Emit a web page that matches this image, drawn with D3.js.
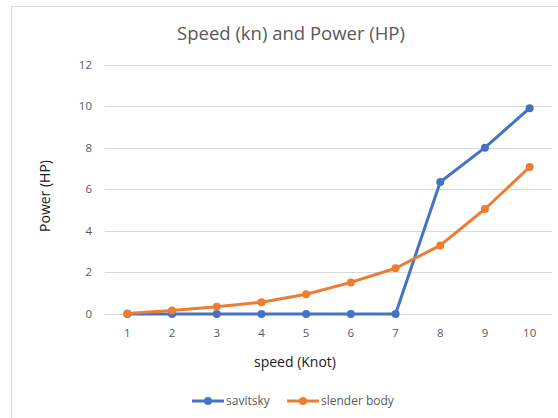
<!DOCTYPE html>
<html>
<head>
<meta charset="utf-8">
<script src="https://cdn.jsdelivr.net/npm/d3@7"></script>
<style>
  html, body { margin: 0; padding: 0; background: #fff; }
  svg { display: block; font-family: "Open Sans", "Noto Sans", sans-serif; }
  .grid line { stroke: #d9d9d9; stroke-width: 1; }
  .tick-label { fill: #595959; font-size: 11.5px; }
  .legend-label { fill: #595959; font-size: 12px; }
</style>
</head>
<body>
<div id="chart"></div>
<script>
'use strict';

// ── Data ────────────────────────────────────────────────────────────────────
const speeds       = [1, 2, 3, 4, 5, 6, 7, 8, 9, 10];
const savitsky     = [0, 0, 0, 0, 0, 0, 0, 6.35, 8.0, 9.9];
const slenderBody  = [0.02, 0.17, 0.35, 0.57, 0.95, 1.52, 2.2, 3.3, 5.05, 7.07];
const yTicks       = [0, 2, 4, 6, 8, 10, 12];

const SERIES = [
  { name: 'savitsky',     values: savitsky,    color: '#4472C4' },
  { name: 'slender body', values: slenderBody, color: '#ED7D31' },
];

const W = 558, H = 418;
const PLOT = { left: 105, right: 552, top: 64.5, bottom: 314 };

const svg = d3.select('#chart').append('svg')
  .attr('width', W)
  .attr('height', H);

// chart frame (cut off on the right/bottom like the reference)
svg.append('rect')
  .attr('x', 11.5).attr('y', 6.5)
  .attr('width', 600).attr('height', 500)
  .attr('fill', '#fff')
  .attr('stroke', '#d9d9d9');

const x = d3.scaleBand()
  .domain(speeds)
  .range([PLOT.left, PLOT.right]);
const cx = d => x(d) + x.bandwidth() / 2;

const y = d3.scaleLinear()
  .domain([0, 12])
  .range([PLOT.bottom, PLOT.top]);

// ── Gridlines ───────────────────────────────────────────────────────────────
svg.append('g')
  .attr('class', 'grid')
  .selectAll('line')
  .data(yTicks)
  .enter()
  .append('line')
  .attr('x1', PLOT.left).attr('x2', PLOT.right)
  .attr('y1', d => Math.round(y(d)) + 0.5)
  .attr('y2', d => Math.round(y(d)) + 0.5);

// y tick labels
svg.append('g')
  .selectAll('text')
  .data(yTicks)
  .enter()
  .append('text')
  .attr('class', 'tick-label')
  .attr('x', 92)
  .attr('y', d => y(d) + 4)
  .attr('text-anchor', 'end')
  .text(d => d);

// x tick labels
svg.append('g')
  .selectAll('text')
  .data(speeds)
  .enter()
  .append('text')
  .attr('class', 'tick-label')
  .attr('x', d => cx(d))
  .attr('y', 337)
  .attr('text-anchor', 'middle')
  .text(d => d);

// ── Titles ──────────────────────────────────────────────────────────────────
svg.append('text')
  .attr('x', 291).attr('y', 40)
  .attr('text-anchor', 'middle')
  .attr('fill', '#595959')
  .style('font-size', '18.5px')
  .text('Speed (kn) and Power (HP)');

svg.append('text')
  .attr('x', 295).attr('y', 367)
  .attr('text-anchor', 'middle')
  .attr('fill', '#1a1a1a')
  .style('font-size', '14px')
  .text('speed (Knot)');

svg.append('text')
  .attr('transform', 'translate(50,196) rotate(-90)')
  .attr('text-anchor', 'middle')
  .attr('fill', '#1a1a1a')
  .style('font-size', '14px')
  .text('Power (HP)');

// ── Lines & markers ─────────────────────────────────────────────────────────
const line = d3.line()
  .x((d, i) => cx(speeds[i]))
  .y(d => y(d));

SERIES.forEach(s => {
  const g = svg.append('g').attr('class', 'series');
  g.append('path')
    .datum(s.values)
    .attr('fill', 'none')
    .attr('stroke', s.color)
    .attr('stroke-width', 3)
    .attr('stroke-linejoin', 'round')
    .attr('d', line);
  g.selectAll('circle')
    .data(s.values)
    .enter()
    .append('circle')
    .attr('cx', (d, i) => cx(speeds[i]))
    .attr('cy', d => y(d))
    .attr('r', 4)
    .attr('fill', s.color);
});

// ── Legend ──────────────────────────────────────────────────────────────────
const legendX = [192, 287];
const lg = svg.append('g').attr('class', 'legend');
SERIES.forEach((s, i) => {
  const ox = legendX[i];
  lg.append('line')
    .attr('x1', ox).attr('x2', ox + 32)
    .attr('y1', 401).attr('y2', 401)
    .attr('stroke', s.color).attr('stroke-width', 3);
  lg.append('circle')
    .attr('cx', ox + 16).attr('cy', 401).attr('r', 4)
    .attr('fill', s.color);
  lg.append('text')
    .attr('class', 'legend-label')
    .attr('x', ox + 34).attr('y', 405)
    .text(s.name);
});
</script>
</body>
</html>
